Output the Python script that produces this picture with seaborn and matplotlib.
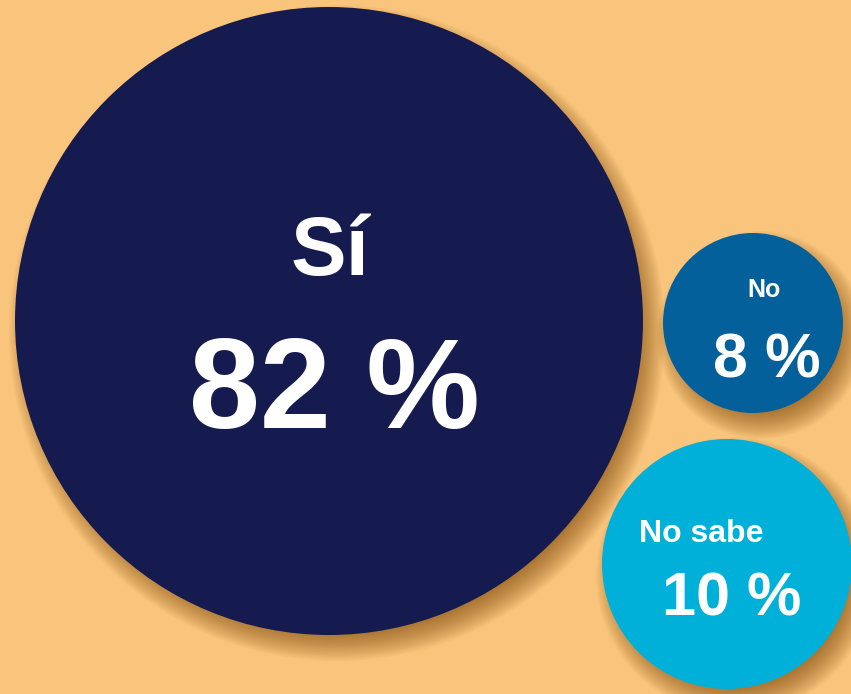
import matplotlib
matplotlib.use('Agg')
import matplotlib.pyplot as plt
from matplotlib.patches import Circle
import pandas as pd
import seaborn as sns

# data
labels = ['Sí', 'No', 'No sabe']
values = [82, 8, 10]

# layout (pixels of the 851x694 canvas)
centers_x = [329, 753, 727]
centers_y = [321, 323, 564]
radii = [314, 90, 125]
colors = ['#151B4E', '#03609A', '#00B0D8']
label_pos = [(330, 253), (764, 290), (701, 534)]
value_pos = [(334, 395), (767, 361), (732, 600)]
label_size = [60, 18, 23]
value_size = [92, 45, 44]

BG = '#F9C47B'

sns.set_theme(style='white')
plt.rcParams['font.family'] = ['Liberation Sans', 'DejaVu Sans']

W, H, DPI = 851, 694, 100
fig = plt.figure(figsize=(W / DPI, H / DPI), dpi=DPI, facecolor=BG)
ax = fig.add_axes([0, 0, 1, 1])
ax.set_facecolor(BG)

# soft drop shadows, offset down-right
for cx, cy, r in zip(centers_x, centers_y, radii):
    for k in range(20):
        ax.add_patch(Circle((cx + 8, cy + 12), r + 14 - k * 1.4,
                            facecolor='#7a4608', edgecolor='none',
                            alpha=0.04, zorder=1))

df = pd.DataFrame({'label': labels, 'value': values,
                   'x': centers_x, 'y': centers_y})
# marker diameter in points = 2r px * 72/dpi
sizes = {lab: (2 * r * 72 / DPI) ** 2 for lab, r in zip(labels, radii)}
sns.scatterplot(data=df, x='x', y='y', hue='label', size='label',
                palette=dict(zip(labels, colors)), sizes=sizes,
                linewidth=0, legend=False, ax=ax, zorder=3)
ax.set_xlim(0, W)
ax.set_ylim(H, 0)
ax.axis('off')

for lab, val, lp, vp, ls, vs in zip(labels, values, label_pos, value_pos,
                                    label_size, value_size):
    ax.text(lp[0], lp[1], lab, color='white', fontsize=ls, fontweight='bold',
            ha='center', va='center', zorder=5)
    ax.text(vp[0], vp[1], f'{val} %', color='white', fontsize=vs,
            fontweight='bold', ha='center', va='center', zorder=5)

fig.savefig('out.png', dpi=DPI, facecolor=BG)
